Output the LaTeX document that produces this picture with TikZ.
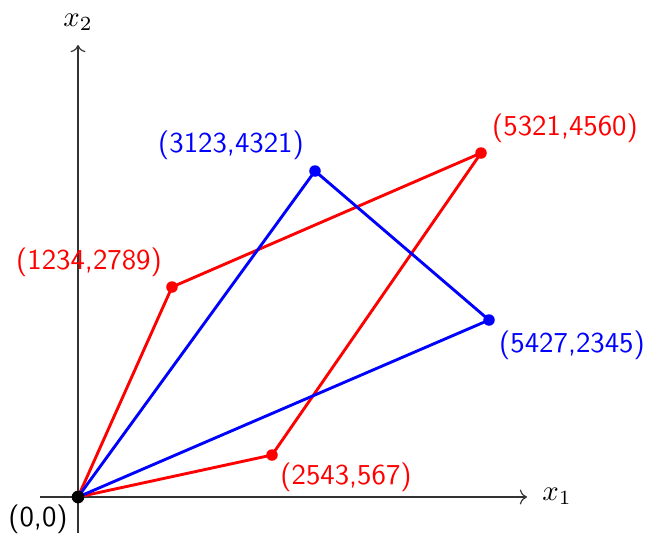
\documentclass[tikz,border=0pt]{standalone}
\usetikzlibrary{arrows.meta}
\begin{document}
\begin{tikzpicture}[x=0.3472pt,y=-0.3472pt,
  every node/.style={font=\sffamily},
  axis/.style={draw=black!80,line width=0.4pt,->},
  redline/.style={draw=red,line width=1pt,line join=round},
  blueline/.style={draw=blue,line width=1pt,line join=round},
  rdot/.style={circle,fill=red,inner sep=0pt,minimum size=4pt},
  bdot/.style={circle,fill=blue,inner sep=0pt,minimum size=4pt},
  kdot/.style={circle,fill=black,inner sep=0pt,minimum size=4.4pt}]
\useasboundingbox (0,0) rectangle (646,535);
% coordinates
\coordinate (O) at (78,497);
\coordinate (A) at (172,287);
\coordinate (B) at (481,153);
\coordinate (C) at (272,455);
\coordinate (D) at (315,171);
\coordinate (E) at (489,320);
\coordinate (xs) at (40,497);
\coordinate (xe) at (527,497);
\coordinate (ys) at (78,533);
\coordinate (ye) at (78,45);
% axes
\draw[axis] (xs) -- (xe);
\draw[axis] (ys) -- (ye);
\node (xl) at (557,496) {$x_1$};
\node (yl) at (78,22) {$x_2$};
% paths
\draw[redline] (O) -- (A) -- (B) -- (C) -- cycle;
\draw[blueline] (O) -- (D) -- (E) -- cycle;
% dots
\node[rdot] (a) at (A) {};
\node[rdot] (b) at (B) {};
\node[rdot] (c) at (C) {};
\node[bdot] (d) at (D) {};
\node[bdot] (e) at (E) {};
\node[kdot] (o) at (O) {};
% labels
\node (lo) at (38,519) {(0,0)};
\node[text=red] (la) at (89,262) {(1234,2789)};
\node[text=red] (lb) at (565,128) {(5321,4560)};
\node[text=red] (lc) at (346,477) {(2543,567)};
\node[text=blue] (ld) at (231,145) {(3123,4321)};
\node[text=blue] (le) at (572,345) {(5427,2345)};
\end{tikzpicture}
\end{document}
